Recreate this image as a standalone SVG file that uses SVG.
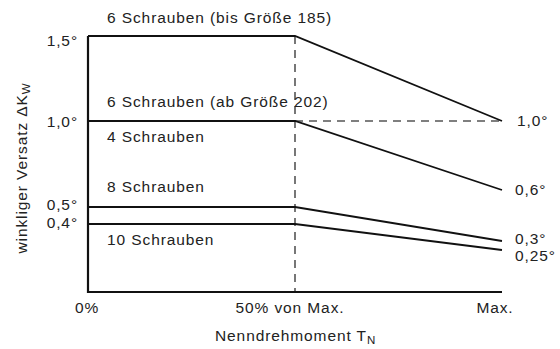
<svg xmlns="http://www.w3.org/2000/svg" width="560" height="349" viewBox="0 0 560 349">
<style>
text{font-family:"Liberation Sans",Arial,sans-serif;font-size:15.5px;letter-spacing:0.9px;fill:#222}
.ax{stroke:#111;stroke-width:2.2;fill:none}
.ln{stroke:#111;stroke-width:1.8;fill:none}
.da{stroke:#555;stroke-width:1.6;stroke-dasharray:8 6;fill:none}
.r{text-anchor:end}
.m{text-anchor:middle}
</style>
<rect width="560" height="349" fill="#fff"/>
<g id="connectors">
<path class="da" d="M295,36 V292"/>
<path class="da" d="M295,121 H502"/>
<path class="ax" d="M88,36 V292 H502"/>
<path class="ln" d="M88,36 H295 L502,121"/>
<path class="ln" d="M88,121 H295 L502,190"/>
<path class="ln" d="M88,207 H295 L502,241"/>
<path class="ln" d="M88,224 H295 L502,250"/>
</g>
<g id="labels-curves">
<text x="107" y="23">6 Schrauben (bis Größe 185)</text>
<text x="107" y="107">6 Schrauben (ab Größe 202)</text>
<text x="107" y="142">4 Schrauben</text>
<text x="107" y="192">8 Schrauben</text>
<text x="107" y="245">10 Schrauben</text>
</g>
<g id="y-ticks">
<text class="r" x="78" y="46">1,5°</text>
<text class="r" x="78" y="127">1,0°</text>
<text class="r" x="78" y="210">0,5°</text>
<text class="r" x="78" y="228">0,4°</text>
</g>
<g id="end-values">
<text x="517" y="126">1,0°</text>
<text x="515" y="195">0,6°</text>
<text x="515" y="244">0,3°</text>
<text x="515" y="261">0,25°</text>
</g>
<g id="x-ticks">
<text class="m" x="87" y="313">0%</text>
<text class="m" x="290" y="313">50% von Max.</text>
<text class="m" x="495" y="313">Max.</text>
</g>
<g id="axis-titles">
<text x="215" y="341">Nenndrehmoment T<tspan font-size="11.5" dy="3">N</tspan></text>
<text class="m" transform="translate(27,168) rotate(-90)">winkliger Versatz ΔK<tspan font-size="11.5" dy="3">W</tspan></text>
</g>
</svg>
